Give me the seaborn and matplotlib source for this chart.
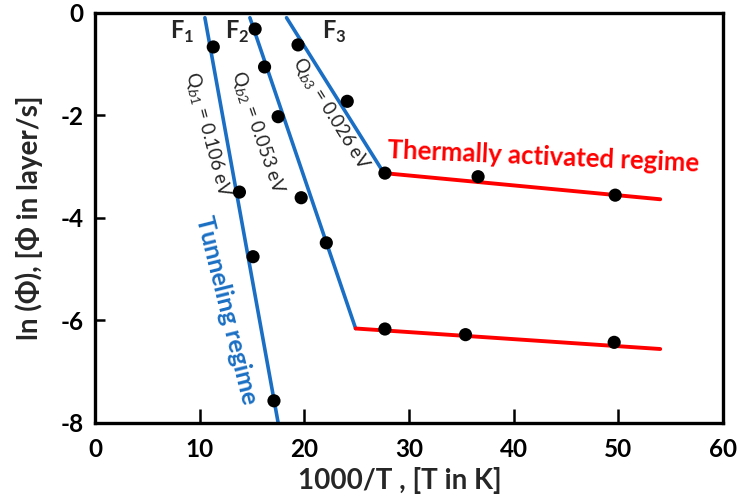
import matplotlib
matplotlib.use("Agg")
import matplotlib.pyplot as plt
import seaborn as sns
import pandas as pd

# Measured flux points for the three samples (x = 1000/T, y = ln Phi)
f1_x = [11.3, 13.8, 15.1, 17.1]
f1_y = [-0.67, -3.50, -4.76, -7.57]
f2_x = [15.3, 16.2, 17.5, 19.7, 22.1]
f2_y = [-0.32, -1.06, -2.03, -3.61, -4.49]
f3_x = [19.4, 24.1, 27.7]
f3_y = [-0.63, -1.73, -3.13]
hi_x = [36.6, 49.7]
hi_y = [-3.20, -3.56]
lo_x = [27.7, 35.4, 49.6]
lo_y = [-6.17, -6.28, -6.43]

# Fitted regime lines (end points)
fit_f1_x = [10.5, 17.5]
fit_f1_y = [-0.1, -8.0]
fit_f2_x = [14.8, 24.9]
fit_f2_y = [-0.1, -6.16]
fit_f3_x = [18.3, 27.6]
fit_f3_y = [-0.1, -3.13]
fit_hi_x = [27.6, 54.0]
fit_hi_y = [-3.13, -3.64]
fit_lo_x = [24.9, 54.0]
fit_lo_y = [-6.16, -6.56]

x_ticks = [0, 10, 20, 30, 40, 50, 60]
y_ticks = [0, -2, -4, -6, -8]

BLUE = "#1a6fc4"
RED = "#ff0000"

sns.set_style("white")
plt.rcParams["font.family"] = ["Lato", "DejaVu Sans"]
plt.rcParams["mathtext.fontset"] = "custom"
plt.rcParams["mathtext.rm"] = "Lato"
plt.rcParams["mathtext.bf"] = "Lato:bold"

fig = plt.figure(figsize=(7.38, 5.04), dpi=100)
ax = fig.add_axes([0.1287, 0.161, 0.851, 0.814])

def seg(xs, ys, color, lw):
    d = pd.DataFrame({"x": xs, "y": ys})
    sns.lineplot(data=d, x="x", y="y", color=color, lw=lw, ax=ax,
                 sort=False, estimator=None)

for xs, ys in [(fit_f1_x, fit_f1_y), (fit_f2_x, fit_f2_y), (fit_f3_x, fit_f3_y)]:
    seg(xs, ys, BLUE, 2.6)
for xs, ys in [(fit_hi_x, fit_hi_y), (fit_lo_x, fit_lo_y)]:
    seg(xs, ys, RED, 2.8)

pts = pd.DataFrame({
    "x": f1_x + f2_x + f3_x + hi_x + lo_x,
    "y": f1_y + f2_y + f3_y + hi_y + lo_y,
})
sns.scatterplot(data=pts, x="x", y="y", color="black", s=90,
                edgecolor="none", ax=ax, zorder=5)

ax.set_xlim(0, 60)
ax.set_ylim(-8, 0)
ax.set_xticks(x_ticks)
ax.set_yticks(y_ticks)
ax.set_xticklabels([str(v) for v in x_ticks], fontsize=17.5, fontweight="bold")
ax.set_yticklabels([str(v) for v in y_ticks], fontsize=17.5, fontweight="bold")
ax.tick_params(axis="x", direction="in", length=10, width=1.8, pad=11,
               colors="black", bottom=True, top=False)
ax.tick_params(axis="y", direction="in", length=7, width=1.8, pad=8,
               colors="black", left=True, right=False)
for sp in ax.spines.values():
    sp.set_linewidth(2.4)
    sp.set_color("black")

ax.set_xlabel("1000/T , [T in K]", fontsize=20, fontweight="bold")
ax.set_ylabel("ln (\u03a6), [\u03a6 in layer/s]", fontsize=20, fontweight="bold")
ax.xaxis.set_label_coords(0.486, -0.108)
ax.yaxis.set_label_coords(-0.082, 0.5)

# Sample labels
for lbl, x in [("F$_\\mathbf{1}$", 8.3), ("F$_\\mathbf{2}$", 13.6), ("F$_\\mathbf{3}$", 22.9)]:
    ax.text(x, -0.38, lbl, fontsize=17, fontweight="bold", ha="center", va="center")

# Activation energies along the slopes
ax.text(10.75, -2.39, "Q$_{b1}$ = 0.106 eV", fontsize=13.5, rotation=-75,
        rotation_mode="anchor", ha="center", va="center")
ax.text(15.45, -2.35, "Q$_{b2}$ = 0.053 eV", fontsize=13.5, rotation=-71,
        rotation_mode="anchor", ha="center", va="center")
ax.text(22.45, -1.98, "Q$_{b3}$ = 0.026 eV", fontsize=13.5, rotation=-58,
        rotation_mode="anchor", ha="center", va="center")

ax.text(12.6, -5.8, "Tunneling regime", fontsize=18, fontweight="bold",
        color=BLUE, rotation=-76, rotation_mode="anchor", ha="center", va="center")
ax.text(42.8, -2.81, "Thermally activated regime", fontsize=18.5, fontweight="bold",
        color=RED, rotation=-2.5, rotation_mode="anchor", ha="center", va="center")

fig.savefig("out.png", dpi=100)
